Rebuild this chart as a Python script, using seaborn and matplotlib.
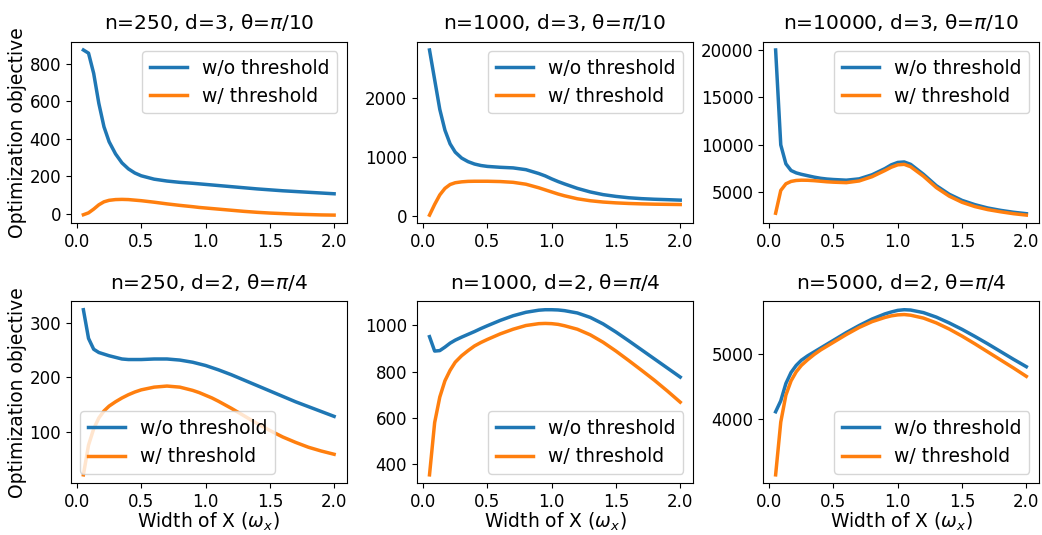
import numpy as np
import pandas as pd
import seaborn as sns
import matplotlib.pyplot as plt

# width of X grid (omega_x)
width = [0.05, 0.09, 0.13, 0.17, 0.21, 0.25, 0.3, 0.35, 0.4, 0.45, 0.5, 0.6, 0.7, 0.8,
         0.9, 0.95, 1.0, 1.05, 1.1, 1.2, 1.3, 1.4, 1.5, 1.6, 1.7, 1.8, 1.9, 2.0]

# n=250, d=3, theta=pi/10
p1_raw = [875, 858, 750, 590, 465, 385, 320, 272, 240, 218, 203, 185, 175, 168,
          163, 160, 157, 154, 151, 145, 139, 133, 128, 123, 119, 115, 111, 107]
p1_thr = [-5, 5, 25, 48, 64, 72, 76, 77, 76, 73, 70, 62, 53, 45,
          38, 34, 31, 28, 25, 19, 13, 8, 4, 1, -2, -4, -6, -7]

# n=1000, d=3, theta=pi/10
p2_raw = [2800, 2300, 1800, 1450, 1220, 1080, 980, 920, 880, 855, 840, 825, 815, 785,
          720, 680, 630, 585, 545, 470, 410, 365, 335, 312, 297, 287, 280, 272]
p2_thr = [20, 200, 360, 470, 535, 565, 580, 588, 590, 590, 590, 585, 572, 540,
          480, 445, 410, 375, 345, 295, 262, 240, 226, 216, 209, 204, 201, 198]

# n=10000, d=3, theta=pi/10
p3_raw = [20000, 10000, 8000, 7300, 7050, 6900, 6750, 6600, 6480, 6400, 6350, 6280, 6420, 6850,
          7500, 7900, 8150, 8200, 7950, 6900, 5700, 4800, 4150, 3700, 3350, 3100, 2900, 2750]
p3_thr = [2800, 5200, 5900, 6150, 6250, 6280, 6270, 6230, 6170, 6110, 6070, 6020, 6200, 6650,
          7300, 7650, 7900, 7950, 7700, 6700, 5500, 4600, 3950, 3500, 3180, 2950, 2750, 2600]

# n=250, d=2, theta=pi/4
p4_raw = [325, 272, 252, 246, 243, 240, 237, 234, 233, 233, 233, 234, 234, 232,
          228, 225, 222, 218, 214, 205, 195, 185, 175, 165, 155, 146, 137, 128]
p4_thr = [20, 75, 105, 125, 138, 147, 155, 162, 168, 173, 177, 182, 184, 182,
          176, 172, 167, 162, 156, 143, 129, 115, 102, 90, 80, 71, 64, 58]

# n=1000, d=2, theta=pi/4
p5_raw = [950, 888, 890, 905, 922, 935, 948, 960, 972, 985, 997, 1020, 1040, 1055,
          1064, 1066, 1066, 1065, 1062, 1052, 1033, 1005, 970, 932, 893, 854, 815, 776]
p5_thr = [355, 580, 690, 760, 805, 840, 868, 890, 910, 925, 938, 962, 982, 998,
          1006, 1007, 1006, 1003, 997, 982, 958, 926, 888, 847, 805, 762, 716, 668]

# n=5000, d=2, theta=pi/4
p6_raw = [4110, 4280, 4550, 4720, 4830, 4910, 4980, 5040, 5100, 5160, 5220, 5340, 5450, 5550,
          5630, 5660, 5685, 5695, 5690, 5650, 5580, 5490, 5390, 5280, 5165, 5045, 4925, 4810]
p6_thr = [3130, 3950, 4370, 4590, 4730, 4830, 4920, 5000, 5070, 5130, 5190, 5310, 5420, 5510,
          5575, 5600, 5615, 5620, 5610, 5565, 5490, 5395, 5285, 5165, 5040, 4915, 4790, 4660]

titles = ['n=250, d=3, θ=$\\pi$/10', 'n=1000, d=3, θ=$\\pi$/10', 'n=10000, d=3, θ=$\\pi$/10',
          'n=250, d=2, θ=$\\pi$/4', 'n=1000, d=2, θ=$\\pi$/4', 'n=5000, d=2, θ=$\\pi$/4']
legend_locs = ['upper right', 'upper right', 'upper right',
               'lower left', 'lower right', 'lower right']

series = [(p1_raw, p1_thr), (p2_raw, p2_thr), (p3_raw, p3_thr),
          (p4_raw, p4_thr), (p5_raw, p5_thr), (p6_raw, p6_thr)]

fig, axes = plt.subplots(2, 3, figsize=(10.42, 5.35), dpi=100)
plt.subplots_adjust(left=0.068, right=0.997, top=0.922, bottom=0.097, wspace=0.255, hspace=0.43)

for i, ax in enumerate(axes.flat):
    raw, thr = series[i]
    df = pd.DataFrame({'width': width, 'raw': raw, 'thr': thr})
    sns.lineplot(data=df, x='width', y='raw', ax=ax, color='#1f77b4', lw=2.5, label='w/o threshold')
    sns.lineplot(data=df, x='width', y='thr', ax=ax, color='#ff7f0e', lw=2.5, label='w/ threshold')
    ax.set_title(titles[i], fontsize=14.5, pad=9)
    ax.set_xticks([0.0, 0.5, 1.0, 1.5, 2.0])
    ax.tick_params(labelsize=12)
    ax.legend(loc=legend_locs[i], fontsize=13.5)
    ax.set_xlabel('Width of X ($\\omega_x$)' if i >= 3 else '', fontsize=13.5, labelpad=0)
    ax.set_ylabel('Optimization objective' if i % 3 == 0 else '', fontsize=13.5, labelpad=2)

axes[1, 0].set_yticks([100, 200, 300])
axes[1, 2].set_yticks([4000, 5000])

plt.savefig('out.png', dpi=100)
